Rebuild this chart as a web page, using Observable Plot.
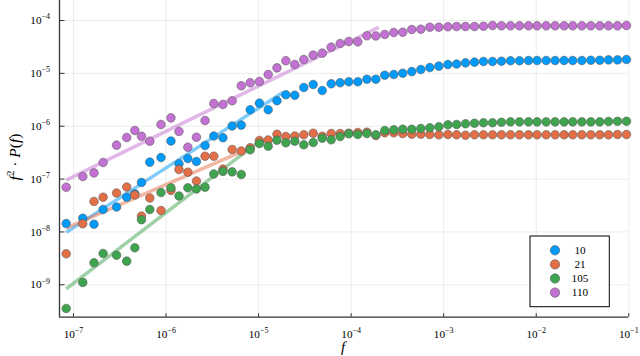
<!DOCTYPE html>
<html><head><meta charset="utf-8">
<script src="https://cdn.jsdelivr.net/npm/d3@7"></script>
<script src="https://cdn.jsdelivr.net/npm/@observablehq/plot@0.6"></script>
<style>
body{margin:0;background:#fff;}
#chart{width:640px;height:356px;}
</style></head><body><div id="chart"></div>
<script>
// frequency grid shared by all series
const freq = [8.34e-8,1.26e-7,1.665e-7,2.09e-7,2.92e-7,3.76e-7,4.60e-7,5.43e-7,6.68e-7,8.82e-7,
  1.13e-6,1.38e-6,1.72e-6,2.13e-6,2.64e-6,3.28e-6,4.12e-6,5.18e-6,6.50e-6,8.11e-6,
  1.02e-5,1.27e-5,1.58e-5,1.97e-5,2.46e-5,3.08e-5,3.89e-5,4.87e-5,6.09e-5,7.61e-5,
  9.43e-5,1.18e-4,1.48e-4,1.85e-4,2.31e-4,2.89e-4,3.61e-4,4.52e-4,5.66e-4,7.08e-4,
  8.86e-4,1.11e-3,1.38e-3,1.72e-3,2.15e-3,2.69e-3,3.37e-3,4.21e-3,5.27e-3,6.59e-3,
  8.25e-3,1.02e-2,1.28e-2,1.60e-2,2.00e-2,2.48e-2,3.11e-2,3.89e-2,4.86e-2,6.04e-2,
  7.55e-2,9.44e-2];

const series = ["10","21","105","110"];
const colors = ["#009AFA","#E36F47","#3EA44E","#C371D2"];

const s10 = [1.44e-8,1.82e-8,1.40e-8,2.66e-8,2.96e-8,4.54e-8,5.27e-8,8.62e-8,2.09e-7,2.56e-7,
  5.25e-7,1.95e-7,2.45e-7,2.15e-7,4.32e-7,6.53e-7,6.06e-7,1.01e-6,1.05e-6,2.05e-6,
  2.73e-6,2.05e-6,3.03e-6,3.93e-6,3.86e-6,5.40e-6,6.16e-6,4.74e-6,6.35e-6,6.63e-6,
  6.92e-6,6.92e-6,7.75e-6,7.75e-6,9.23e-6,9.52e-6,1.007e-5,1.08e-5,1.18e-5,1.29e-5,
  1.37e-5,1.47e-5,1.50e-5,1.58e-5,1.63e-5,1.68e-5,1.68e-5,1.70e-5,1.73e-5,1.73e-5,
  1.75e-5,1.75e-5,1.75e-5,1.75e-5,1.75e-5,1.75e-5,1.75e-5,1.77e-5,1.77e-5,1.80e-5,
  1.80e-5,1.83e-5];
const s21 = [3.86e-9,1.43e-8,3.77e-8,4.54e-8,5.45e-8,7.08e-8,5.00e-8,2.00e-8,4.39e-8,2.54e-8,
  6.08e-8,1.52e-7,1.35e-7,9.20e-8,2.71e-7,2.71e-7,1.54e-7,3.63e-7,3.40e-7,3.91e-7,
  5.37e-7,5.49e-7,7.04e-7,6.39e-7,6.53e-7,6.88e-7,7.38e-7,6.47e-7,7.28e-7,7.28e-7,
  7.38e-7,7.61e-7,7.71e-7,6.67e-7,7.51e-7,7.51e-7,7.28e-7,7.06e-7,7.06e-7,6.97e-7,
  6.88e-7,6.97e-7,6.88e-7,6.76e-7,6.88e-7,6.88e-7,6.88e-7,6.88e-7,6.88e-7,6.88e-7,
  6.88e-7,6.88e-7,6.88e-7,6.88e-7,6.88e-7,6.88e-7,6.88e-7,6.88e-7,6.88e-7,6.88e-7,
  6.97e-7,6.97e-7];
const s105 = [3.56e-10,1.11e-9,2.61e-9,3.91e-9,3.63e-9,2.80e-9,5.01e-9,1.70e-8,2.66e-8,5.57e-8,
  6.84e-8,4.79e-8,6.84e-8,6.49e-8,7.02e-8,1.25e-7,1.40e-7,1.37e-7,1.22e-7,3.58e-7,
  4.71e-7,4.19e-7,5.44e-7,4.86e-7,5.21e-7,4.45e-7,4.92e-7,5.93e-7,5.54e-7,6.39e-7,
  7.19e-7,6.97e-7,7.28e-7,6.88e-7,8.30e-7,8.56e-7,8.78e-7,8.78e-7,9.06e-7,9.33e-7,
  9.75e-7,1.064e-6,1.08e-6,1.11e-6,1.14e-6,1.16e-6,1.16e-6,1.19e-6,1.21e-6,1.21e-6,
  1.21e-6,1.21e-6,1.21e-6,1.21e-6,1.21e-6,1.21e-6,1.21e-6,1.21e-6,1.21e-6,1.23e-6,
  1.24e-6,1.24e-6];
const s110 = [7.02e-8,1.12e-7,1.31e-7,2.06e-7,4.38e-7,6.12e-7,8.30e-7,6.47e-7,5.21e-7,1.078e-6,
  1.44e-6,7.95e-7,4.01e-7,6.20e-7,1.28e-6,2.69e-6,2.58e-6,3.03e-6,5.82e-6,6.63e-6,
  7.02e-6,9.52e-6,1.27e-5,1.73e-5,1.47e-5,1.83e-5,2.21e-5,2.41e-5,3.13e-5,3.67e-5,
  4.01e-5,3.95e-5,5.14e-5,5.10e-5,5.44e-5,5.93e-5,6.01e-5,6.75e-5,6.84e-5,7.47e-5,
  7.47e-5,7.60e-5,7.70e-5,7.70e-5,7.70e-5,7.80e-5,8.04e-5,7.94e-5,7.94e-5,7.94e-5,
  7.94e-5,7.94e-5,7.94e-5,7.94e-5,7.94e-5,7.94e-5,7.94e-5,7.94e-5,7.94e-5,7.94e-5,
  7.94e-5,8.04e-5];

// power-law fit segments (one per series, same order as `series`)
const fitF0 = [8.34e-8, 8.34e-8, 8.34e-8, 8.34e-8];
const fitF1 = [1.844e-5, 8.70e-6, 9.37e-6, 1.99e-4];
const fitP0 = [9.82e-9, 1.177e-8, 8.34e-10, 9.54e-8];
const fitP1 = [4.40e-6, 4.10e-7, 4.65e-7, 7.47e-5];

const xTicks = [1e-7,1e-6,1e-5,1e-4,1e-3,1e-2,1e-1];
const xTickLabels = ["10^−7","10^−6","10^−5","10^−4","10^−3","10^−2","10^−1"];
const yTicks = [1e-9,1e-8,1e-7,1e-6,1e-5,1e-4];
const yTickLabels = ["10^−9","10^−8","10^−7","10^−6","10^−5","10^−4"];

const xDomain = [7.06e-8, 0.1];
const yDomain = [2.438e-10, 2.39e-4];

const values = [s10, s21, s105, s110];
const rows = [];
values.forEach((arr, k) => arr.forEach((p, i) => rows.push({f: freq[i], p, s: series[k]})));
const fits = series.map((s, k) => ({s, f0: fitF0[k], f1: fitF1[k], p0: fitP0[k], p1: fitP1[k]}));

const W = 640, H = 356, mL = 59, mR = 11.7, mT = 0, mB = 39.3;
const plotW = W - mL - mR, plotH = H - mT - mB;
const axisColor = "#333";
const serif = "'Liberation Serif', 'DejaVu Serif', serif";

const svg = Plot.plot({
  width: W, height: H,
  marginLeft: mL, marginRight: mR, marginTop: mT, marginBottom: mB,
  x: {type: "log", domain: xDomain, axis: null},
  y: {type: "log", domain: yDomain, axis: null},
  color: {domain: series, range: colors},
  style: {background: "white", fontFamily: serif, fontSize: "11.2px", color: "black", overflow: "visible"},
  marks: [
    Plot.ruleX(xTicks, {x: d => d, stroke: "#000", strokeOpacity: 0.1, strokeWidth: 0.7}),
    Plot.ruleY(yTicks, {y: d => d, stroke: "#000", strokeOpacity: 0.1, strokeWidth: 0.7}),
    Plot.link(fits, {x1: "f0", y1: "p0", x2: "f1", y2: "p1", stroke: "s", strokeOpacity: 0.5, strokeWidth: 3.5}),
    Plot.dot(rows, {x: "f", y: "p", fill: "s", r: 4.3, stroke: "#555", strokeWidth: 0.7, strokeOpacity: 0.8}),
    Plot.ruleX([xDomain[0]], {stroke: axisColor, strokeWidth: 1.3}),
    Plot.ruleY([yDomain[0]], {stroke: axisColor, strokeWidth: 1.3}),
    Plot.ruleX(xTicks, {x: d => d, insetTop: plotH - 3.5, stroke: axisColor, strokeWidth: 1}),
    Plot.ruleY(yTicks, {y: d => d, insetRight: plotW - 5.5, stroke: axisColor, strokeWidth: 1}),
    Plot.text(xTicks, {x: d => d, frameAnchor: "bottom", dy: 20.3, lineAnchor: "bottom", textAnchor: "middle", fontSize: 11.2, text: (d, i) => xTickLabels[i]}),
    Plot.text(yTicks, {y: d => d, frameAnchor: "left", dx: -9.5, textAnchor: "end", fontSize: 11.2, text: (d, i) => yTickLabels[i]})
  ]
});

// superscripts for tick labels
d3.select(svg).selectAll("text").each(function() {
  const t = this.textContent;
  if (t.includes("^")) {
    const [b, e] = t.split("^");
    this.textContent = "";
    const sel = d3.select(this);
    sel.append("tspan").text(b);
    sel.append("tspan").attr("dy", "-4.8").attr("font-size", "8px").text(e);
  }
});

const g = d3.select(svg).append("g").attr("font-family", serif);

// axis titles
g.append("text").attr("x", 343).attr("y", 352).attr("text-anchor", "middle")
  .attr("font-size", "15px").attr("font-style", "italic").text("f");
const yl = g.append("text").attr("transform", "translate(19.5,157) rotate(-90)")
  .attr("text-anchor", "middle").attr("font-size", "15.5px");
yl.append("tspan").attr("font-style", "italic").text("f");
yl.append("tspan").attr("dy", "-5.5").attr("font-size", "11px").text("2");
yl.append("tspan").attr("dy", "5.5").text(" · ");
yl.append("tspan").attr("font-style", "italic").text("P");
yl.append("tspan").text("(");
yl.append("tspan").attr("font-style", "italic").text("f");
yl.append("tspan").text(")");

// legend
const lg = g.append("g");
lg.append("rect").attr("x", 530).attr("y", 236).attr("width", 79.3).attr("height", 70.7)
  .attr("fill", "white").attr("stroke", "black").attr("stroke-width", 1);
series.forEach((s, i) => {
  const cy = 250.3 + 14.1 * i;
  lg.append("circle").attr("cx", 555).attr("cy", cy).attr("r", 4.7)
    .attr("fill", colors[i]).attr("stroke", "#555").attr("stroke-width", 0.7).attr("stroke-opacity", 0.8);
  lg.append("text").attr("x", 580).attr("y", cy + 3.8).attr("font-size", "11.2px").text(s);
});

document.getElementById("chart").appendChild(svg);
</script>
</body></html>
